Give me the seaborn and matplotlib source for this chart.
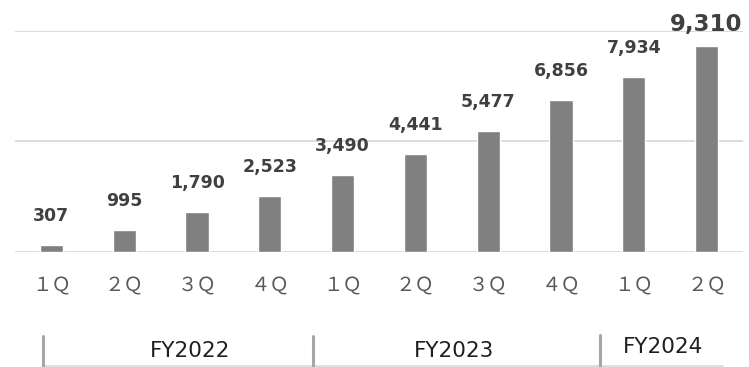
import matplotlib
matplotlib.use("Agg")
import matplotlib.pyplot as plt
from matplotlib.lines import Line2D
import seaborn as sns
import pandas as pd

# Quarterly results
fiscal_years = ["FY2022", "FY2022", "FY2022", "FY2022",
                "FY2023", "FY2023", "FY2023", "FY2023",
                "FY2024", "FY2024"]
quarters = ["１Ｑ", "２Ｑ", "３Ｑ", "４Ｑ", "１Ｑ", "２Ｑ", "３Ｑ", "４Ｑ", "１Ｑ", "２Ｑ"]
values = [307, 995, 1790, 2523, 3490, 4441, 5477, 6856, 7934, 9310]
year_labels = ["FY2022", "FY2023", "FY2024"]

df = pd.DataFrame({
    "period": [f"{fy} {q}" for fy, q in zip(fiscal_years, quarters)],
    "quarter": quarters,
    "value": values,
})

sns.set_theme(style="white")
plt.rcParams["font.family"] = ["DejaVu Sans"]

fig = plt.figure(figsize=(7.49, 3.67), dpi=100)
ax = fig.add_axes([15 / 749, 1 - 251.7 / 367, 728 / 749, (251.7 - 31) / 367])

sns.barplot(data=df, x="period", y="value", color="#808080", saturation=1,
            width=0.32, ax=ax, zorder=3)

ax.set_ylim(0, 10000)
ax.set_xlim(-0.5, 9.5)
ax.set_yticks([0, 5000, 10000])
ax.yaxis.grid(True, color="#d9d9d9", linewidth=1.3, zorder=0)
ax.xaxis.grid(False)
ax.set_yticklabels([])
ax.tick_params(axis="y", length=0)
for s in ax.spines.values():
    s.set_visible(False)
ax.set_xlabel("")
ax.set_ylabel("")

ax.set_xticks(range(len(quarters)))
ax.set_xticklabels(quarters, fontfamily=["Noto Sans CJK JP", "DejaVu Sans"],
                   fontsize=14, color="#595959")
ax.tick_params(axis="x", length=0, pad=17)

# Value labels above each bar
last = len(values) - 1
for i, v in enumerate(values):
    big = i == last
    ax.annotate(f"{v:,}", xy=(i, v), xytext=(0, 10.8 if big else 17.3),
                textcoords="offset points", ha="center", va="baseline",
                fontsize=16.5 if big else 12.5, fontweight="bold",
                color="#404040", annotation_clip=False)

# Fiscal year brackets below the quarter labels
W, H = 749, 367
def fx(px):
    return px / W
def fy(py):
    return 1 - py / H

fig.add_artist(Line2D([fx(43), fx(723)], [fy(366), fy(366)],
                      color="#d9d9d9", linewidth=1.2))
for xs, top in [(43, 336), (313, 336), (600, 335)]:
    fig.add_artist(Line2D([fx(xs), fx(xs)], [fy(top), fy(366)],
                          color="#a6a6a6", linewidth=2.2))

for label, (cx, cy) in zip(year_labels, [(190, 351), (454, 351), (663, 347)]):
    fig.text(fx(cx), fy(cy), label, ha="center", va="center",
             fontsize=15.5, color="#1f1f1f")

fig.savefig("out.png", dpi=100)
